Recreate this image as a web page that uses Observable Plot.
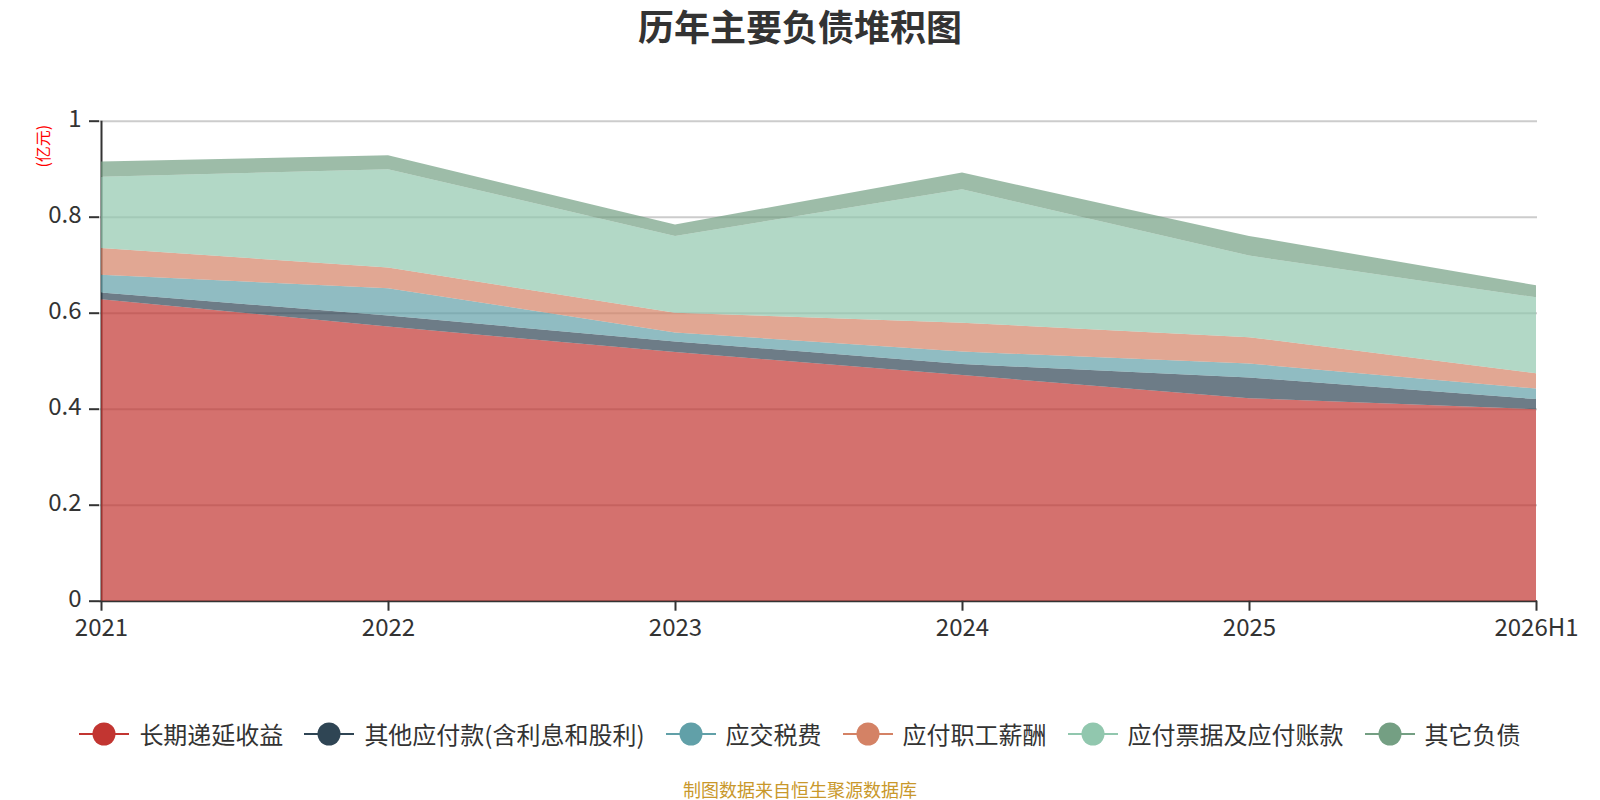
<!DOCTYPE html>
<html>
<head>
<meta charset="utf-8">
<script src="https://cdn.jsdelivr.net/npm/d3@7"></script>
<script src="https://cdn.jsdelivr.net/npm/@observablehq/plot@0.6"></script>
<style>
  html, body { margin: 0; padding: 0; background: #fff; }
  body { width: 1600px; height: 800px; overflow: hidden; font-family: "Noto Sans CJK SC", "Noto Sans", sans-serif; color: #333; }
  #title { height: 60px; line-height: 50px; text-align: center; font-size: 36px; font-weight: bold; color: #333; }
  #chart svg { display: block; }
  #legend { margin-top: 59px; height: 30px; display: flex; justify-content: center; align-items: center; }
  .item { display: flex; align-items: center; margin: 0 10.5px; font-size: 24px; line-height: 30px; color: #333; white-space: nowrap; }
  .item svg { margin-right: 10px; display: block; }
  #caption { margin-top: 30px; height: 20px; line-height: 20px; text-align: center; font-size: 18px; color: #c9982b; }
</style>
</head>
<body>
<div id="title">历年主要负债堆积图</div>
<div id="chart"></div>
<div id="legend"></div>
<div id="caption">制图数据来自恒生聚源数据库</div>
<script>
const years = ["2021", "2022", "2023", "2024", "2025", "2026H1"];
const seriesNames = ["长期递延收益", "其他应付款(含利息和股利)", "应交税费", "应付职工薪酬", "应付票据及应付账款", "其它负债"];
const deferredIncome = [0.628, 0.571, 0.518, 0.470, 0.422, 0.399];
const otherPayables = [0.014, 0.023, 0.022, 0.023, 0.043, 0.021];
const taxesPayable = [0.037, 0.057, 0.019, 0.026, 0.029, 0.022];
const payroll = [0.056, 0.043, 0.041, 0.060, 0.055, 0.032];
const notesAccounts = [0.148, 0.205, 0.160, 0.278, 0.170, 0.158];
const otherLiabilities = [0.032, 0.029, 0.024, 0.035, 0.041, 0.025];
const yTicks = [0, 0.2, 0.4, 0.6, 0.8, 1];
const yUnit = "(亿元)";

const colors = ["#c23531", "#2f4554", "#61a0a8", "#d48265", "#91c7ae", "#749f83"];

const seriesValues = [deferredIncome, otherPayables, taxesPayable, payroll, notesAccounts, otherLiabilities];
const table = [];
seriesNames.forEach((name, i) => {
  years.forEach((year, j) => table.push({series: name, year, value: seriesValues[i][j]}));
});

const chart = Plot.plot({
  width: 1600,
  height: 600,
  marginLeft: 99,
  marginRight: 63,
  marginTop: 60.7,
  marginBottom: 59.3,
  style: {fontFamily: '"Noto Sans CJK SC", "Noto Sans", sans-serif', fontSize: "24px", color: "#333", background: "#fff"},
  x: {type: "point", domain: years, padding: 0, label: null},
  y: {domain: [0, 1], label: null},
  color: {domain: seriesNames, range: colors},
  marks: [
    Plot.ruleY(yTicks.filter(d => d > 0), {stroke: "#cccccc", strokeWidth: 2}),
    Plot.ruleX([years[0]], {y1: 0, y2: 1, stroke: "#333", strokeWidth: 2}),
    Plot.ruleY([0], {stroke: "#333", strokeWidth: 2}),
    Plot.areaY(table, {x: "year", y: "value", fill: "series", z: "series", fillOpacity: 0.7, curve: "linear"}),
    Plot.axisY({ticks: yTicks, tickSize: 10, tickFormat: () => "", stroke: "#333", strokeWidth: 2, label: null}),
    Plot.axisY({ticks: yTicks, tickSize: 0, tickPadding: 18, tickFormat: d => String(d), fill: "#333", fontSize: 24, label: null, dy: -2}),
    Plot.axisX({tickSize: 10, tickPadding: 8, stroke: "#333", strokeWidth: 2, fill: "#333", fontSize: 24, label: null}),
    Plot.text([yUnit], {text: d => d, frameAnchor: "top-left", dx: -62, dy: 25, rotate: -90, fill: "red", fontSize: 16, textAnchor: "middle"})
  ]
});
document.getElementById("chart").appendChild(chart);

const legend = d3.select("#legend");
seriesNames.forEach((name, i) => {
  const item = legend.append("div").attr("class", "item");
  const svg = item.append("svg").attr("width", 50).attr("height", 28);
  svg.append("line").attr("x1", 0).attr("x2", 50).attr("y1", 14).attr("y2", 14).attr("stroke", colors[i]).attr("stroke-width", 2);
  svg.append("circle").attr("cx", 25).attr("cy", 14).attr("r", 11.5).attr("fill", colors[i]);
  item.append("span").text(name);
});
</script>
</body>
</html>
